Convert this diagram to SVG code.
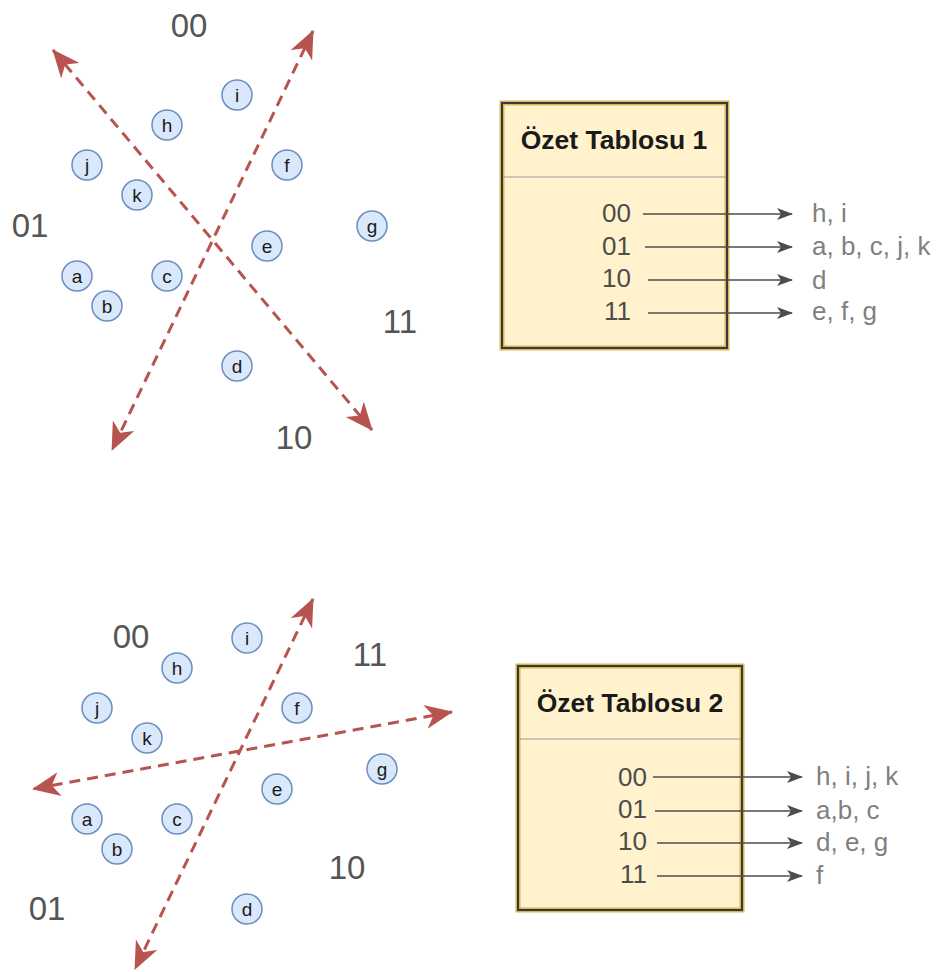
<svg xmlns="http://www.w3.org/2000/svg" width="944" height="972" viewBox="0 0 944 972">
<style>
.pt circle{fill:#dae8fc;stroke:#6c8ebf;stroke-width:1.5}
.pt text{font-family:"Liberation Sans",Arial,sans-serif;font-size:19px;fill:#1a1a1a;text-anchor:middle}
.big{font-family:"Liberation Sans",Arial,sans-serif;font-size:33px;fill:#555555;text-anchor:middle}
.title{font-family:"Liberation Sans",Arial,sans-serif;font-size:26.5px;font-weight:bold;fill:#1a1a1a;text-anchor:middle}
.row{font-family:"Liberation Sans",Arial,sans-serif;font-size:26px;fill:#4d4d4d;text-anchor:end}
.val{font-family:"Liberation Sans",Arial,sans-serif;font-size:26px;fill:#808080}
.red{stroke:#b85450;stroke-width:3;stroke-dasharray:11 7;fill:none;marker-start:url(#rh);marker-end:url(#rh)}
.gl{stroke:#4d4d4d;stroke-width:1.5;fill:none;marker-end:url(#gh)}
</style>
<defs>
<marker id="rh" markerUnits="userSpaceOnUse" viewBox="0 0 28 24" markerWidth="28" markerHeight="24" refX="27" refY="12" orient="auto-start-reverse">
<path d="M28,12 L0,0 L8,12 L0,24 Z" fill="#b85450"/>
</marker>
<marker id="gh" markerUnits="userSpaceOnUse" viewBox="0 0 16 12" markerWidth="16" markerHeight="12" refX="15" refY="6" orient="auto">
<path d="M16,6 L0,0 L4,6 L0,12 Z" fill="#4d4d4d"/>
</marker>
</defs>

<g id="panel1">
<g id="p1-i" class="pt"><circle cx="237" cy="95" r="15"/><text x="237" y="102">i</text></g>
<g id="p1-h" class="pt"><circle cx="167" cy="125" r="15"/><text x="167" y="132">h</text></g>
<g id="p1-j" class="pt"><circle cx="87" cy="165" r="15"/><text x="87" y="172">j</text></g>
<g id="p1-f" class="pt"><circle cx="287" cy="165" r="15"/><text x="287" y="172">f</text></g>
<g id="p1-k" class="pt"><circle cx="137" cy="195" r="15"/><text x="137" y="202">k</text></g>
<g id="p1-g" class="pt"><circle cx="372" cy="226" r="15"/><text x="372" y="233">g</text></g>
<g id="p1-e" class="pt"><circle cx="267" cy="246" r="15"/><text x="267" y="253">e</text></g>
<g id="p1-a" class="pt"><circle cx="77" cy="276" r="15"/><text x="77" y="283">a</text></g>
<g id="p1-c" class="pt"><circle cx="167" cy="276" r="15"/><text x="167" y="283">c</text></g>
<g id="p1-b" class="pt"><circle cx="107" cy="306" r="15"/><text x="107" y="313">b</text></g>
<g id="p1-d" class="pt"><circle cx="237" cy="366" r="15"/><text x="237" y="373">d</text></g>
<text class="big" x="189" y="37">00</text>
<text class="big" x="30" y="237">01</text>
<text class="big" x="400" y="333">11</text>
<text class="big" x="294" y="449">10</text>
</g>

<g id="table1">
<rect x="502" y="103" width="225" height="245" fill="#fff2cc" stroke="#d6b656" stroke-width="5"/>
<rect x="502" y="103" width="225" height="245" fill="none" stroke="#36393d" stroke-width="2"/>
<line x1="503" y1="177" x2="726" y2="177" stroke="#999999" stroke-width="1.2"/>
<text class="title" x="614" y="149">Özet Tablosu 1</text>
<text class="row" x="631" y="222">00</text>
<text class="row" x="631" y="255">01</text>
<text class="row" x="631" y="287">10</text>
<text class="row" x="631" y="320">11</text>
<text class="val" x="812" y="222">h, i</text>
<text class="val" x="812" y="255">a, b, c, j, k</text>
<text class="val" x="812" y="289">d</text>
<text class="val" x="812" y="320">e, f, g</text>
</g>

<g id="panel2">
<g id="p2-i" class="pt"><circle cx="247" cy="638" r="15"/><text x="247" y="645">i</text></g>
<g id="p2-h" class="pt"><circle cx="177" cy="668" r="15"/><text x="177" y="675">h</text></g>
<g id="p2-j" class="pt"><circle cx="97" cy="708" r="15"/><text x="97" y="715">j</text></g>
<g id="p2-f" class="pt"><circle cx="297" cy="708" r="15"/><text x="297" y="715">f</text></g>
<g id="p2-k" class="pt"><circle cx="147" cy="738" r="15"/><text x="147" y="745">k</text></g>
<g id="p2-g" class="pt"><circle cx="382" cy="769" r="15"/><text x="382" y="776">g</text></g>
<g id="p2-e" class="pt"><circle cx="277" cy="789" r="15"/><text x="277" y="796">e</text></g>
<g id="p2-a" class="pt"><circle cx="87" cy="819" r="15"/><text x="87" y="826">a</text></g>
<g id="p2-c" class="pt"><circle cx="177" cy="819" r="15"/><text x="177" y="826">c</text></g>
<g id="p2-b" class="pt"><circle cx="117" cy="849" r="15"/><text x="117" y="856">b</text></g>
<g id="p2-d" class="pt"><circle cx="247" cy="909" r="15"/><text x="247" y="916">d</text></g>
<text class="big" x="131" y="648">00</text>
<text class="big" x="370" y="666">11</text>
<text class="big" x="347" y="879">10</text>
<text class="big" x="47" y="920">01</text>
</g>

<g id="table2">
<rect x="518" y="666" width="224" height="244" fill="#fff2cc" stroke="#d6b656" stroke-width="5"/>
<rect x="518" y="666" width="224" height="244" fill="none" stroke="#36393d" stroke-width="2"/>
<line x1="519" y1="739" x2="741" y2="739" stroke="#999999" stroke-width="1.2"/>
<text class="title" x="630" y="712">Özet Tablosu 2</text>
<text class="row" x="647" y="786">00</text>
<text class="row" x="647" y="818">01</text>
<text class="row" x="647" y="850">10</text>
<text class="row" x="647" y="883">11</text>
<text class="val" x="816" y="785">h, i, j, k</text>
<text class="val" x="816" y="819">a,b, c</text>
<text class="val" x="816" y="851">d, e, g</text>
<text class="val" x="816" y="884">f</text>
</g>

<g id="connectors">
<line class="red" x1="53" y1="50" x2="372" y2="430"/>
<line class="red" x1="313" y1="31" x2="112" y2="450"/>
<line class="red" x1="313" y1="599" x2="135" y2="969"/>
<line class="red" x1="452" y1="712" x2="33" y2="789"/>
<line class="gl" x1="643" y1="214" x2="792" y2="214"/>
<line class="gl" x1="645" y1="247" x2="792" y2="247"/>
<line class="gl" x1="648" y1="280" x2="792" y2="280"/>
<line class="gl" x1="648" y1="313" x2="792" y2="313"/>
<line class="gl" x1="653" y1="777" x2="802" y2="777"/>
<line class="gl" x1="655" y1="811" x2="802" y2="811"/>
<line class="gl" x1="657" y1="843" x2="802" y2="843"/>
<line class="gl" x1="657" y1="876" x2="802" y2="876"/>
</g>
</svg>
